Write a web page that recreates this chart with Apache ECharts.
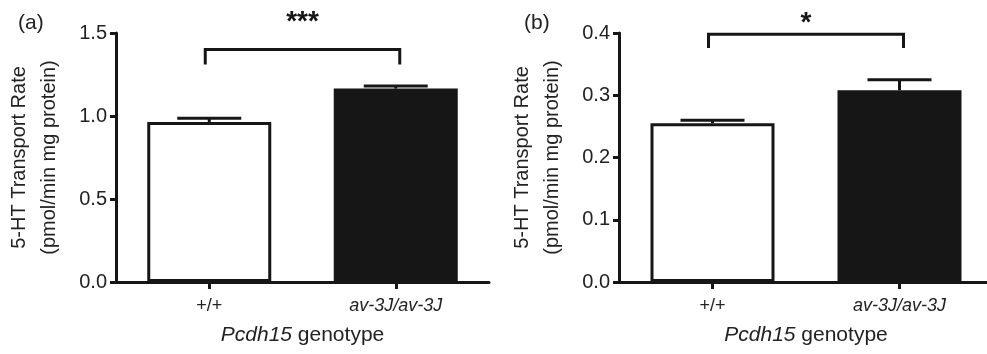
<!DOCTYPE html>
<html>
<head>
<meta charset="utf-8">
<script src="https://cdn.jsdelivr.net/npm/echarts@6/dist/echarts.min.js"></script>
<style>
  html, body { margin: 0; padding: 0; background: #fff; }
  #chart { width: 987px; height: 354px; }
</style>
</head>
<body>
<div id="chart"></div>
<script>
// genotypes on the x axis
let genotypes = ['+/+', 'av-3J/av-3J'];

// panel (a): 5-HT transport rate, mean and SEM
let meanA = [0.964, 1.165];
let semA = [0.022, 0.016];
let ticksA = [0, 0.5, 1.0, 1.5];

// panel (b)
let meanB = [0.255, 0.308];
let semB = [0.005, 0.017];
let ticksB = [0, 0.1, 0.2, 0.3, 0.4];

// significance brackets: [top, leg end, star position], stars
let bracketA = [1.40, 1.31, 1.565];
let starsA = '***';
let bracketB = [0.398, 0.376, 0.415];
let starsB = '*';

let barFills = ['#ffffff', '#161616'];
let fontFam = 'Liberation Sans, Arial, sans-serif';

let myChart = echarts.init(document.getElementById('chart'));

function barData(means) {
  return means.map(function (v, i) {
    return {
      value: v,
      itemStyle: { color: barFills[i], borderColor: '#161616', borderWidth: 3 }
    };
  });
}

function errData(means, sems) {
  return means.map(function (v, i) { return [i, v, v + sems[i]]; });
}

function renderErr(params, api) {
  let base = api.coord([api.value(0), api.value(1)]);
  let top = api.coord([api.value(0), api.value(2)]);
  let hw = 32;
  return {
    type: 'group',
    children: [
      { type: 'line', shape: { x1: base[0], y1: base[1], x2: top[0], y2: top[1] }, style: { stroke: '#161616', lineWidth: 3 } },
      { type: 'line', shape: { x1: top[0] - hw, y1: top[1], x2: top[0] + hw, y2: top[1] }, style: { stroke: '#161616', lineWidth: 3 } }
    ]
  };
}

function renderBracket(stars) {
  return function (params, api) {
    let p0 = api.coord([0, api.value(0)]);
    let p1 = api.coord([1, api.value(0)]);
    let leg = api.coord([0, api.value(1)]);
    let st = api.coord([0, api.value(2)]);
    return {
      type: 'group',
      children: [
        {
          type: 'polyline',
          shape: { points: [[p0[0] - 4, leg[1]], [p0[0] - 4, p0[1]], [p1[0] + 4, p1[1]], [p1[0] + 4, leg[1]]] },
          style: { stroke: '#161616', lineWidth: 3, fill: null }
        },
        {
          type: 'text',
          x: (p0[0] + p1[0]) / 2,
          y: st[1],
          style: { text: stars, fontSize: 28, fontWeight: 'bold', fontFamily: fontFam, fill: '#161616', align: 'center', verticalAlign: 'middle' }
        }
      ]
    };
  };
}

function yAxisFor(idx, ticks) {
  return {
    type: 'value',
    gridIndex: idx,
    min: ticks[0],
    max: ticks[ticks.length - 1],
    interval: ticks[1] - ticks[0],
    name: '5-HT Transport Rate\n(pmol/min mg protein)',
    nameLocation: 'middle',
    nameRotate: 90,
    nameGap: 52,
    nameTextStyle: { fontSize: 20, fontFamily: fontFam, color: '#222', lineHeight: 30 },
    axisLine: { show: true, lineStyle: { color: '#161616', width: 3 } },
    axisTick: { show: true, length: 6, lineStyle: { color: '#161616', width: 3 } },
    axisLabel: {
      fontSize: 20, fontFamily: fontFam, color: '#222', margin: 9,
      formatter: function (v) { return v.toFixed(1); }
    },
    splitLine: { show: false }
  };
}

function xAxisFor(idx) {
  return {
    type: 'category',
    gridIndex: idx,
    data: genotypes,
    name: '{i|Pcdh15} genotype',
    nameLocation: 'middle',
    nameGap: 43,
    nameTextStyle: {
      fontSize: 21, fontFamily: fontFam, color: '#222',
      rich: { i: { fontSize: 21, fontFamily: fontFam, fontStyle: 'italic', color: '#222' } }
    },
    axisLine: { show: true, lineStyle: { color: '#161616', width: 3 } },
    axisTick: { show: true, alignWithLabel: true, length: 7, lineStyle: { color: '#161616', width: 3 } },
    axisLabel: {
      fontSize: 18, fontFamily: fontFam, color: '#222', margin: 15,
      formatter: function (v) { return v === '+/+' ? v : '{i|' + v + '}'; },
      rich: { i: { fontSize: 18, fontFamily: fontFam, fontStyle: 'italic', color: '#222' } }
    }
  };
}

let option = {
  animation: false,
  backgroundColor: '#fff',
  title: [
    { text: '(a)', left: 13, top: 8, textStyle: { fontSize: 21, fontWeight: 'normal', fontFamily: fontFam, color: '#222' } },
    { text: '(b)', left: 519, top: 8, textStyle: { fontSize: 21, fontWeight: 'normal', fontFamily: fontFam, color: '#222' } }
  ],
  grid: [
    { left: 116, right: 498, top: 33, bottom: 72, containLabel: false, outerBoundsMode: 'none' },
    { left: 619, right: -6, top: 33, bottom: 72, containLabel: false, outerBoundsMode: 'none' }
  ],
  xAxis: [xAxisFor(0), xAxisFor(1)],
  yAxis: [yAxisFor(0, ticksA), yAxisFor(1, ticksB)],
  series: [
    { type: 'bar', xAxisIndex: 0, yAxisIndex: 0, barWidth: 124, data: barData(meanA) },
    { type: 'custom', xAxisIndex: 0, yAxisIndex: 0, z: 5, renderItem: renderErr, data: errData(meanA, semA) },
    { type: 'custom', xAxisIndex: 0, yAxisIndex: 0, z: 5, renderItem: renderBracket(starsA), data: [bracketA] },
    { type: 'bar', xAxisIndex: 1, yAxisIndex: 1, barWidth: 124, data: barData(meanB) },
    { type: 'custom', xAxisIndex: 1, yAxisIndex: 1, z: 5, renderItem: renderErr, data: errData(meanB, semB) },
    { type: 'custom', xAxisIndex: 1, yAxisIndex: 1, z: 5, renderItem: renderBracket(starsB), data: [bracketB] }
  ]
};

myChart.setOption(option);
</script>
</body>
</html>
